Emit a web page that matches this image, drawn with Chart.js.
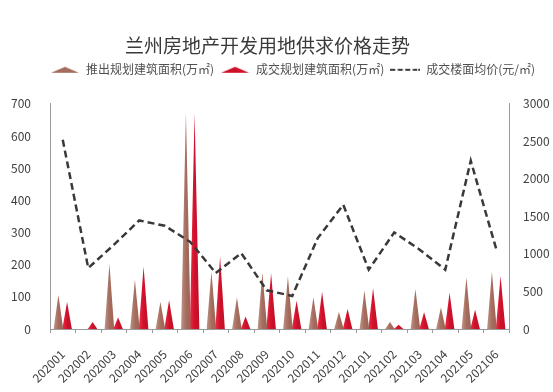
<!DOCTYPE html>
<html>
<head>
<meta charset="utf-8">
<script src="https://cdn.jsdelivr.net/npm/chart.js@4/dist/chart.umd.min.js"></script>
<style>
    html, body { margin: 0; padding: 0; background: #ffffff; }
</style>
</head>
<body>
<canvas id="land-chart" width="553" height="392"></canvas>
<script>
const months = ['202001', '202002', '202003', '202004', '202005', '202006', '202007', '202008', '202009',
    '202010', '202011', '202012', '202101', '202102', '202103', '202104', '202105', '202106'];
// 推出规划建筑面积(万㎡)
const supplyArea = [106, 0, 202, 153, 85, 672, 178, 98, 175, 163, 98, 53, 120, 22, 124, 67, 161, 178];
// 成交规划建筑面积(万㎡)
const dealArea = [84, 22, 36, 194, 89, 670, 225, 39, 173, 88, 116, 62, 127, 13, 52, 113, 60, 165];
// 成交楼面均价(元/㎡)
const avgPrice = [2520, 812, 1120, 1446, 1375, 1160, 745, 1010, 515, 440, 1211, 1655, 790, 1287, 1056, 790, 2241, 1065];

const areaMax = 700;
const priceMax = 3000;

const FONT = '"Noto Sans CJK SC", "Noto Sans", sans-serif';
const BROWN = '#a66d5e';
const RED = '#d0112b';
const LINE = '#3d3838';
const AXIS = '#9a9a9a';

// small canvases used as legend icons
function makeIcon(draw) {
    const c = document.createElement('canvas');
    c.width = 30;
    c.height = 10;
    draw(c.getContext('2d'));
    return c;
}
function triangleIcon(color) {
    return makeIcon(ctx => {
        ctx.fillStyle = color;
        ctx.beginPath();
        ctx.moveTo(1, 8); ctx.lineTo(15, 2); ctx.lineTo(29, 8); ctx.closePath();
        ctx.fill();
    });
}
const legendIcons = [
    triangleIcon(BROWN),
    triangleIcon(RED),
    makeIcon(ctx => {
        ctx.strokeStyle = LINE;
        ctx.lineWidth = 2;
        ctx.setLineDash([5, 2.5]);
        ctx.beginPath();
        ctx.moveTo(0, 5); ctx.lineTo(27, 5);
        ctx.stroke();
        ctx.setLineDash([]);
        ctx.fillStyle = LINE;
        ctx.fillRect(28, 4, 2, 2);
    })
];

// bars are drawn as triangles on top of the (invisible) bar elements
const trianglePlugin = {
    id: 'triangleBars',
    afterDatasetDraw(chart, args) {
        const meta = args.meta;
        if (meta.type !== 'bar') return;
        const color = chart.data.datasets[args.index].triangleColor;
        const ctx = chart.ctx;
        ctx.save();
        meta.data.forEach(el => {
            const { x, y, base, width } = el.getProps(['x', 'y', 'base', 'width'], true);
            if (Math.abs(base - y) < 0.5) return;
            const half = width / 2 * 1.1;
            const grad = ctx.createLinearGradient(x - half, 0, x + half, 0);
            grad.addColorStop(0, Chart.helpers.color(color).lighten(0.25).rgbString());
            grad.addColorStop(0.5, color);
            grad.addColorStop(1, Chart.helpers.color(color).darken(0.08).rgbString());
            ctx.fillStyle = grad;
            ctx.beginPath();
            ctx.moveTo(x - half, base);
            ctx.lineTo(x, y);
            ctx.lineTo(x + half, base);
            ctx.closePath();
            ctx.fill();
        });
        ctx.restore();
    }
};

// title and legend are not centred on the same point in the original
const headerShift = {
    id: 'headerShift',
    afterLayout(chart) {
        if (chart.titleBlock) {
            chart.titleBlock.left -= 9;
            chart.titleBlock.right -= 9;
        }
        if (chart.legend) {
            chart.legend.left += 16;
            chart.legend.right += 16;
        }
    }
};

new Chart(document.getElementById('land-chart'), {
    type: 'bar',
    data: {
        labels: months,
        datasets: [{
            label: '推出规划建筑面积(万㎡)',
            data: supplyArea,
            backgroundColor: 'rgba(0,0,0,0)',
            triangleColor: BROWN,
            yAxisID: 'y',
            categoryPercentage: 0.68,
            barPercentage: 1,
            order: 1
        }, {
            label: '成交规划建筑面积(万㎡)',
            data: dealArea,
            backgroundColor: 'rgba(0,0,0,0)',
            triangleColor: RED,
            yAxisID: 'y',
            categoryPercentage: 0.68,
            barPercentage: 1,
            order: 1
        }, {
            type: 'line',
            label: '成交楼面均价(元/㎡)',
            data: avgPrice,
            borderColor: LINE,
            borderWidth: 2.5,
            borderDash: [7, 4],
            pointRadius: 0,
            tension: 0,
            fill: false,
            yAxisID: 'y1',
            order: 0
        }]
    },
    plugins: [trianglePlugin, headerShift],
    options: {
        responsive: false,
        animation: false,
        devicePixelRatio: 1,
        layout: {
            padding: { top: 0, left: 0, right: 0, bottom: 0 }
        },
        plugins: {
            title: {
                display: true,
                text: '兰州房地产开发用地供求价格走势',
                color: '#3a3a3a',
                font: { family: FONT, size: 19, weight: 'normal' },
                padding: { top: 34, bottom: 1 }
            },
            subtitle: {
                // empty block that keeps the gap between legend and plot
                display: true,
                text: '',
                weight: 500,
                font: { family: FONT, size: 10 },
                padding: { top: 0, bottom: 6 }
            },
            legend: {
                display: true,
                align: 'center',
                labels: {
                    usePointStyle: true,
                    pointStyleWidth: 30,
                    padding: 6,
                    color: '#505050',
                    font: { family: FONT, size: 12 },
                    generateLabels(chart) {
                        const items = Chart.defaults.plugins.legend.labels.generateLabels(chart);
                        items.forEach(item => { item.pointStyle = legendIcons[item.datasetIndex]; });
                        return items.sort((a, b) => a.datasetIndex - b.datasetIndex);
                    }
                }
            },
            tooltip: { enabled: false }
        },
        scales: {
            x: {
                offset: true,
                grid: { display: true, drawOnChartArea: false, offset: true, tickLength: 4, color: AXIS },
                border: { color: AXIS },
                ticks: {
                    color: '#404040',
                    font: { family: FONT, size: 12 },
                    minRotation: 45,
                    maxRotation: 45,
                    autoSkip: false,
                    padding: 14
                },
                afterFit(scale) { scale.height = 63; }
            },
            y: {
                position: 'left',
                min: 0,
                max: areaMax,
                grid: { display: false },
                border: { color: AXIS },
                ticks: {
                    stepSize: 100,
                    color: '#404040',
                    font: { family: FONT, size: 12 },
                    padding: 11
                },
                afterFit(scale) { scale.width = 50; }
            },
            y1: {
                position: 'right',
                min: 0,
                max: priceMax,
                grid: { display: false },
                border: { color: AXIS },
                ticks: {
                    stepSize: 500,
                    color: '#404040',
                    font: { family: FONT, size: 12 },
                    padding: 6,
                    callback: value => String(value)
                },
                afterFit(scale) { scale.width = 44; }
            }
        }
    }
});
</script>
</body>
</html>
